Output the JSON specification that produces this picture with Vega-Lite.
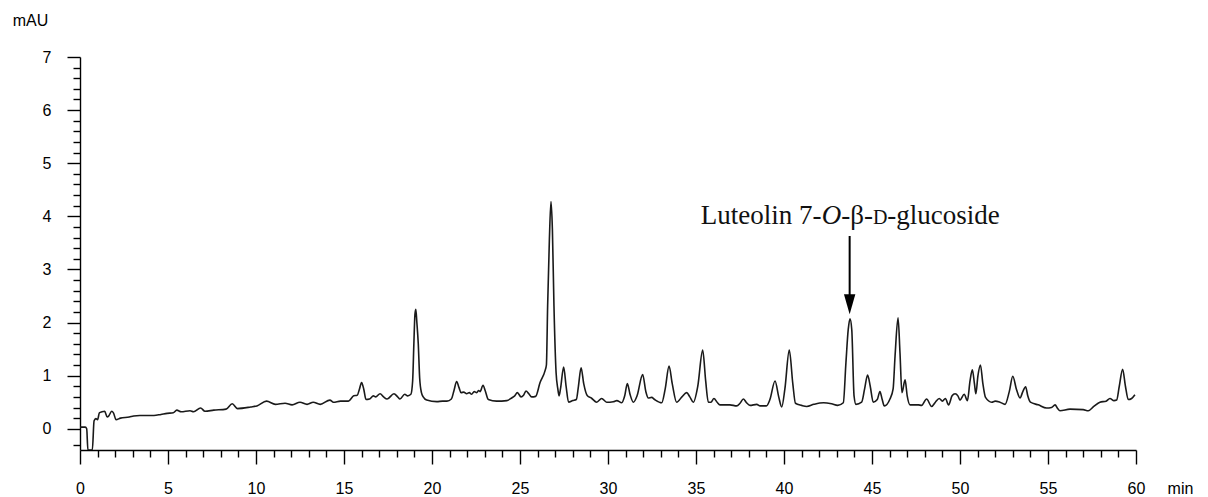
{
  "$schema": "https://vega.github.io/schema/vega-lite/v6.json",
  "width": 1056,
  "height": 393,
  "autosize": "none",
  "padding": {"left": 80, "top": 57, "right": 72, "bottom": 47},
  "background": "white",
  "config": {"view": {"stroke": null}},
  "layer": [
    {
      "data": {"values": [
        {"t":0.0,"mAU":0.03},{"t":0.3,"mAU":0.03},{"t":0.38,"mAU":0.0},{"t":0.45,"mAU":-0.4},{"t":0.7,"mAU":-0.4},{"t":0.8,"mAU":0.15},{"t":0.9,"mAU":0.19},{"t":1.0,"mAU":0.17},{"t":1.1,"mAU":0.3},{"t":1.25,"mAU":0.32},{"t":1.4,"mAU":0.33},{"t":1.55,"mAU":0.22},{"t":1.65,"mAU":0.25},{"t":1.8,"mAU":0.33},{"t":1.9,"mAU":0.3},{"t":2.05,"mAU":0.17},{"t":2.3,"mAU":0.2},{"t":2.8,"mAU":0.22},{"t":3.05,"mAU":0.24},{"t":3.4,"mAU":0.25},{"t":4.2,"mAU":0.25},{"t":4.6,"mAU":0.27},{"t":4.95,"mAU":0.29},{"t":5.3,"mAU":0.3},{"t":5.5,"mAU":0.35},{"t":5.75,"mAU":0.32},{"t":6.25,"mAU":0.34},{"t":6.45,"mAU":0.32},{"t":6.85,"mAU":0.39},{"t":7.1,"mAU":0.33},{"t":7.6,"mAU":0.35},{"t":8.3,"mAU":0.37},{"t":8.65,"mAU":0.47},{"t":8.95,"mAU":0.38},{"t":9.7,"mAU":0.41},{"t":10.05,"mAU":0.43},{"t":10.6,"mAU":0.52},{"t":11.1,"mAU":0.46},{"t":11.65,"mAU":0.48},{"t":12.05,"mAU":0.45},{"t":12.5,"mAU":0.5},{"t":12.9,"mAU":0.46},{"t":13.25,"mAU":0.5},{"t":13.65,"mAU":0.46},{"t":14.2,"mAU":0.54},{"t":14.4,"mAU":0.5},{"t":14.8,"mAU":0.52},{"t":15.25,"mAU":0.52},{"t":15.55,"mAU":0.62},{"t":15.75,"mAU":0.63},{"t":15.88,"mAU":0.75},{"t":16.0,"mAU":0.87},{"t":16.12,"mAU":0.75},{"t":16.25,"mAU":0.55},{"t":16.45,"mAU":0.56},{"t":16.67,"mAU":0.62},{"t":16.8,"mAU":0.6},{"t":17.05,"mAU":0.66},{"t":17.25,"mAU":0.6},{"t":17.45,"mAU":0.56},{"t":17.84,"mAU":0.66},{"t":18.05,"mAU":0.6},{"t":18.18,"mAU":0.56},{"t":18.45,"mAU":0.65},{"t":18.62,"mAU":0.62},{"t":18.8,"mAU":0.65},{"t":18.9,"mAU":0.9},{"t":18.97,"mAU":1.6},{"t":19.03,"mAU":2.15},{"t":19.08,"mAU":2.25},{"t":19.14,"mAU":2.0},{"t":19.22,"mAU":1.6},{"t":19.3,"mAU":0.95},{"t":19.4,"mAU":0.68},{"t":19.5,"mAU":0.6},{"t":19.7,"mAU":0.54},{"t":20.27,"mAU":0.51},{"t":20.6,"mAU":0.52},{"t":20.85,"mAU":0.52},{"t":21.1,"mAU":0.56},{"t":21.25,"mAU":0.72},{"t":21.4,"mAU":0.89},{"t":21.53,"mAU":0.78},{"t":21.65,"mAU":0.68},{"t":21.8,"mAU":0.69},{"t":21.97,"mAU":0.66},{"t":22.12,"mAU":0.68},{"t":22.25,"mAU":0.65},{"t":22.4,"mAU":0.7},{"t":22.54,"mAU":0.68},{"t":22.65,"mAU":0.72},{"t":22.73,"mAU":0.7},{"t":22.9,"mAU":0.82},{"t":23.02,"mAU":0.72},{"t":23.2,"mAU":0.55},{"t":23.67,"mAU":0.52},{"t":24.25,"mAU":0.53},{"t":24.53,"mAU":0.58},{"t":24.7,"mAU":0.62},{"t":24.85,"mAU":0.68},{"t":25.06,"mAU":0.6},{"t":25.2,"mAU":0.63},{"t":25.34,"mAU":0.71},{"t":25.5,"mAU":0.66},{"t":25.66,"mAU":0.6},{"t":25.89,"mAU":0.61},{"t":26.14,"mAU":0.87},{"t":26.42,"mAU":1.09},{"t":26.5,"mAU":1.2},{"t":26.57,"mAU":2.31},{"t":26.67,"mAU":3.57},{"t":26.76,"mAU":4.28},{"t":26.84,"mAU":3.76},{"t":26.93,"mAU":2.31},{"t":27.05,"mAU":1.06},{"t":27.15,"mAU":0.75},{"t":27.22,"mAU":0.62},{"t":27.3,"mAU":0.75},{"t":27.48,"mAU":1.16},{"t":27.62,"mAU":0.8},{"t":27.76,"mAU":0.5},{"t":28.0,"mAU":0.53},{"t":28.2,"mAU":0.55},{"t":28.32,"mAU":0.8},{"t":28.47,"mAU":1.15},{"t":28.62,"mAU":0.85},{"t":28.83,"mAU":0.62},{"t":29.05,"mAU":0.58},{"t":29.36,"mAU":0.5},{"t":29.64,"mAU":0.57},{"t":29.92,"mAU":0.5},{"t":30.3,"mAU":0.51},{"t":30.5,"mAU":0.53},{"t":30.78,"mAU":0.49},{"t":30.95,"mAU":0.62},{"t":31.1,"mAU":0.85},{"t":31.25,"mAU":0.65},{"t":31.44,"mAU":0.5},{"t":31.65,"mAU":0.62},{"t":31.97,"mAU":1.02},{"t":32.15,"mAU":0.7},{"t":32.29,"mAU":0.58},{"t":32.48,"mAU":0.59},{"t":32.65,"mAU":0.55},{"t":33.05,"mAU":0.49},{"t":33.25,"mAU":0.75},{"t":33.47,"mAU":1.18},{"t":33.65,"mAU":0.85},{"t":33.9,"mAU":0.5},{"t":34.2,"mAU":0.6},{"t":34.47,"mAU":0.68},{"t":34.65,"mAU":0.6},{"t":34.85,"mAU":0.5},{"t":35.1,"mAU":0.8},{"t":35.38,"mAU":1.48},{"t":35.55,"mAU":0.9},{"t":35.7,"mAU":0.5},{"t":35.85,"mAU":0.5},{"t":36.02,"mAU":0.57},{"t":36.2,"mAU":0.5},{"t":36.36,"mAU":0.45},{"t":36.93,"mAU":0.45},{"t":37.31,"mAU":0.43},{"t":37.5,"mAU":0.48},{"t":37.69,"mAU":0.56},{"t":37.85,"mAU":0.5},{"t":38.07,"mAU":0.44},{"t":38.45,"mAU":0.46},{"t":38.64,"mAU":0.43},{"t":39.0,"mAU":0.43},{"t":39.2,"mAU":0.55},{"t":39.49,"mAU":0.9},{"t":39.7,"mAU":0.6},{"t":39.87,"mAU":0.41},{"t":40.05,"mAU":0.75},{"t":40.3,"mAU":1.48},{"t":40.5,"mAU":0.85},{"t":40.65,"mAU":0.48},{"t":41.0,"mAU":0.44},{"t":41.29,"mAU":0.42},{"t":41.7,"mAU":0.46},{"t":42.25,"mAU":0.49},{"t":42.7,"mAU":0.47},{"t":43.05,"mAU":0.44},{"t":43.37,"mAU":0.49},{"t":43.52,"mAU":1.25},{"t":43.65,"mAU":1.87},{"t":43.75,"mAU":2.07},{"t":43.85,"mAU":1.87},{"t":43.98,"mAU":0.62},{"t":44.09,"mAU":0.46},{"t":44.41,"mAU":0.5},{"t":44.58,"mAU":0.75},{"t":44.75,"mAU":1.01},{"t":44.9,"mAU":0.8},{"t":45.07,"mAU":0.5},{"t":45.3,"mAU":0.55},{"t":45.45,"mAU":0.7},{"t":45.58,"mAU":0.55},{"t":45.7,"mAU":0.43},{"t":46.02,"mAU":0.56},{"t":46.2,"mAU":0.75},{"t":46.31,"mAU":1.37},{"t":46.48,"mAU":2.09},{"t":46.59,"mAU":1.43},{"t":46.7,"mAU":0.68},{"t":46.88,"mAU":0.92},{"t":47.0,"mAU":0.62},{"t":47.16,"mAU":0.45},{"t":47.63,"mAU":0.45},{"t":47.82,"mAU":0.44},{"t":48.1,"mAU":0.56},{"t":48.39,"mAU":0.42},{"t":48.6,"mAU":0.5},{"t":48.82,"mAU":0.57},{"t":49.0,"mAU":0.52},{"t":49.17,"mAU":0.57},{"t":49.35,"mAU":0.45},{"t":49.55,"mAU":0.62},{"t":49.72,"mAU":0.66},{"t":49.88,"mAU":0.62},{"t":50.0,"mAU":0.54},{"t":50.24,"mAU":0.65},{"t":50.42,"mAU":0.53},{"t":50.57,"mAU":0.9},{"t":50.7,"mAU":1.11},{"t":50.82,"mAU":0.85},{"t":50.9,"mAU":0.66},{"t":51.02,"mAU":1.0},{"t":51.16,"mAU":1.2},{"t":51.3,"mAU":0.85},{"t":51.45,"mAU":0.59},{"t":51.8,"mAU":0.5},{"t":52.0,"mAU":0.52},{"t":52.27,"mAU":0.5},{"t":52.56,"mAU":0.46},{"t":52.8,"mAU":0.7},{"t":53.0,"mAU":0.99},{"t":53.2,"mAU":0.75},{"t":53.41,"mAU":0.58},{"t":53.57,"mAU":0.7},{"t":53.73,"mAU":0.79},{"t":53.85,"mAU":0.62},{"t":54.0,"mAU":0.5},{"t":54.45,"mAU":0.45},{"t":54.92,"mAU":0.39},{"t":55.2,"mAU":0.4},{"t":55.4,"mAU":0.45},{"t":55.55,"mAU":0.38},{"t":55.68,"mAU":0.34},{"t":56.25,"mAU":0.37},{"t":57.0,"mAU":0.36},{"t":57.29,"mAU":0.34},{"t":57.6,"mAU":0.42},{"t":57.95,"mAU":0.5},{"t":58.3,"mAU":0.52},{"t":58.52,"mAU":0.57},{"t":58.75,"mAU":0.53},{"t":58.9,"mAU":0.54},{"t":59.05,"mAU":0.8},{"t":59.24,"mAU":1.12},{"t":59.4,"mAU":0.8},{"t":59.56,"mAU":0.55},{"t":59.75,"mAU":0.57},{"t":59.94,"mAU":0.64}
      ]},
      "mark": {"type": "line", "color": "#1a1a1a", "strokeWidth": 1.6, "interpolate": "monotone", "clip": true},
      "encoding": {
        "x": {
          "field": "t", "type": "quantitative",
          "scale": {"domain": [0, 60], "nice": false, "zero": false},
          "axis": {
            "title": "min",
            "values": [0,1,2,3,4,5,6,7,8,9,10,11,12,13,14,15,16,17,18,19,20,21,22,23,24,25,26,27,28,29,30,31,32,33,34,35,36,37,38,39,40,41,42,43,44,45,46,47,48,49,50,51,52,53,54,55,56,57,58,59,60],
            "tickCount": 200,
            "labelExpr": "datum.value % 5 === 0 ? format(datum.value, '.0f') : ''",
            "tickSize": {"condition": {"test": "datum.value % 5 === 0", "value": 14}, "value": 7},
            "labelPadding": 16,
            "labelFont": "Liberation Sans", "labelFontSize": 16, "labelColor": "#000",
            "labelFlush": false, "labelOverlap": false,
            "tickColor": "#000", "tickWidth": 1.4, "domainColor": "#000", "domainWidth": 1.4,
            "grid": false,
            "titleX": 1100, "titleY": 43, "titleAlign": "center", "titleBaseline": "alphabetic",
            "titleFont": "Liberation Sans", "titleFontSize": 16, "titleFontWeight": "normal", "titleColor": "#000"
          }
        },
        "y": {
          "field": "mAU", "type": "quantitative",
          "scale": {"domain": [-0.4, 7], "nice": false, "zero": false},
          "axis": {
            "title": "mAU",
            "values": [-0.3,0,0.2,0.4,0.6,0.8,1,1.2,1.4,1.6,1.8,2,2.2,2.4,2.6,2.8,3,3.2,3.4,3.6,3.8,4,4.2,4.4,4.6,4.8,5,5.2,5.4,5.6,5.8,6,6.2,6.4,6.6,6.8,7],
            "tickCount": 200,
            "labelExpr": "(datum.value >= 0 && abs(datum.value - round(datum.value)) < 0.001) ? format(datum.value, '.0f') : ''",
            "tickSize": {"condition": {"test": "datum.value >= 0 && abs(datum.value - round(datum.value)) < 0.001", "value": 13}, "value": 7},
            "labelPadding": 16,
            "labelFont": "Liberation Sans", "labelFontSize": 16, "labelColor": "#000",
            "labelFlush": false, "labelOverlap": false,
            "tickColor": "#000", "tickWidth": 1.4, "domainColor": "#000", "domainWidth": 1.4,
            "grid": false,
            "titleAngle": 0, "titleX": -50, "titleY": -32, "titleAlign": "center", "titleBaseline": "alphabetic",
            "titleFont": "Liberation Sans", "titleFontSize": 16, "titleFontWeight": "normal", "titleColor": "#000"
          }
        }
      }
    },
    {
      "data": {"values": [{"t": 43.73, "mAU": 3.63, "mAU2": 2.5}]},
      "mark": {"type": "rule", "color": "#000", "strokeWidth": 2},
      "encoding": {
        "x": {"field": "t", "type": "quantitative"},
        "y": {"field": "mAU", "type": "quantitative"},
        "y2": {"field": "mAU2"}
      }
    },
    {
      "data": {"values": [{"t": 43.73, "mAU": 2.345}]},
      "mark": {"type": "point", "shape": "M -0.57 -1 L 0.57 -1 L 0 1 Z", "size": 400, "filled": true, "color": "#000", "opacity": 1, "strokeWidth": 0},
      "encoding": {
        "x": {"field": "t", "type": "quantitative"},
        "y": {"field": "mAU", "type": "quantitative"}
      }
    },
    {
      "data": {"values": [{"t": 43.73, "mAU": 3.85, "p1": "Luteolin 7-", "p2": "O", "p3": "-β-", "p4": "D", "p5": "-glucoside"}]},
      "layer": [
        {"mark": {"type": "text", "font": "Liberation Serif", "fontSize": 27, "align": "left", "baseline": "alphabetic", "dx": -149, "color": "#111"},
         "encoding": {"x": {"field": "t", "type": "quantitative"}, "y": {"field": "mAU", "type": "quantitative"}, "text": {"field": "p1"}}},
        {"mark": {"type": "text", "font": "Liberation Serif", "fontSize": 27, "fontStyle": "italic", "align": "left", "baseline": "alphabetic", "dx": -28, "color": "#111"},
         "encoding": {"x": {"field": "t", "type": "quantitative"}, "y": {"field": "mAU", "type": "quantitative"}, "text": {"field": "p2"}}},
        {"mark": {"type": "text", "font": "Liberation Serif", "fontSize": 27, "align": "left", "baseline": "alphabetic", "dx": -8.5, "color": "#111"},
         "encoding": {"x": {"field": "t", "type": "quantitative"}, "y": {"field": "mAU", "type": "quantitative"}, "text": {"field": "p3"}}},
        {"mark": {"type": "text", "font": "Liberation Serif", "fontSize": 20, "align": "left", "baseline": "alphabetic", "dx": 23.3, "color": "#111"},
         "encoding": {"x": {"field": "t", "type": "quantitative"}, "y": {"field": "mAU", "type": "quantitative"}, "text": {"field": "p4"}}},
        {"mark": {"type": "text", "font": "Liberation Serif", "fontSize": 27, "align": "left", "baseline": "alphabetic", "dx": 37.7, "color": "#111"},
         "encoding": {"x": {"field": "t", "type": "quantitative"}, "y": {"field": "mAU", "type": "quantitative"}, "text": {"field": "p5"}}}
      ]
    }
  ]
}
